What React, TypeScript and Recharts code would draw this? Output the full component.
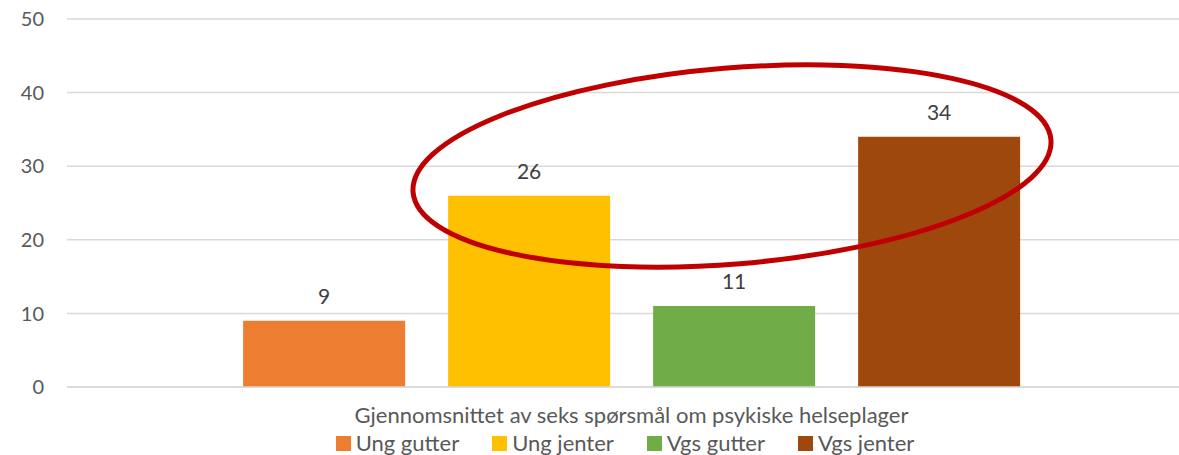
import React from 'react';
import { BarChart, Bar, XAxis, YAxis, CartesianGrid, Legend, LabelList } from 'recharts';

const categories = ['Gjennomsnittet av seks spørsmål om psykiske helseplager'];
const seriesNames = ['Ung gutter', 'Ung jenter', 'Vgs gutter', 'Vgs jenter'];
const seriesValues = [9, 26, 11, 34];
const seriesColors = ['#ED7D31', '#FFC000', '#70AD47', '#9E480E'];
const yTicks = [0, 10, 20, 30, 40, 50];

const FONT = 'Lato, "Open Sans", sans-serif';

const data = categories.map(name => {
    const row: Record<string, string | number> = { name };
    seriesNames.forEach((s, i) => {
        row[s] = seriesValues[i];
    });
    return row;
});

const LegendContent = () => (
    <div style={{ display: 'flex', justifyContent: 'center', height: 24, lineHeight: '24px', fontFamily: FONT, fontSize: 22, color: '#595959', paddingLeft: 54 }}>
        {seriesNames.map((s, i) => (
            <span key={s} style={{ display: 'inline-flex', alignItems: 'center', marginRight: i < seriesNames.length - 1 ? 33 : 0 }}>
                <span style={{ width: 15, height: 15, background: seriesColors[i], marginRight: 5, display: 'inline-block' }} />
                {s}
            </span>
        ))}
    </div>
);

const App: React.FC = () => {
    return (
        <div style={{ position: 'absolute', left: 0, top: 0, width: 1179, height: 455, overflow: 'hidden', background: '#fff' }}>
            <BarChart
                width={1196}
                height={455}
                data={data}
                margin={{ top: 19, right: 0, left: 0, bottom: 0 }}
                barCategoryGap="15.6%"
                barGap={43}
            >
                <CartesianGrid vertical={false} stroke="#d9d9d9" strokeWidth={1.5} />
                <XAxis
                    dataKey="name"
                    height={44}
                    tickLine={false}
                    axisLine={{ stroke: '#d9d9d9', strokeWidth: 1.5 }}
                    tickSize={0}
                    tickMargin={20}
                    tick={{ fontFamily: FONT, fontSize: 22, fill: '#595959' }}
                />
                <YAxis
                    domain={[0, 50]}
                    ticks={yTicks}
                    width={67}
                    axisLine={false}
                    tickLine={false}
                    tickSize={0}
                    tickMargin={23}
                    tick={{ fontFamily: FONT, fontSize: 20, fill: '#595959' }}
                />
                <Legend verticalAlign="bottom" height={24} content={<LegendContent />} />
                {seriesNames.map((s, i) => (
                    <Bar key={s} dataKey={s} fill={seriesColors[i]} isAnimationActive={false}>
                        <LabelList dataKey={s} position="top" offset={17} style={{ fontFamily: FONT, fontSize: 21, fill: '#404040' }} />
                    </Bar>
                ))}
            </BarChart>
            {/* highlight ring drawn on top, like the hand-drawn shape in the source */}
            <svg width={1179} height={455} style={{ position: 'absolute', left: 0, top: 0, pointerEvents: 'none' }}>
                <ellipse cx={732} cy={166} rx={320} ry={98} fill="none" stroke="#C00000" strokeWidth={5} transform="rotate(-4.7 732 166)" />
            </svg>
        </div>
    );
};

export default App;
